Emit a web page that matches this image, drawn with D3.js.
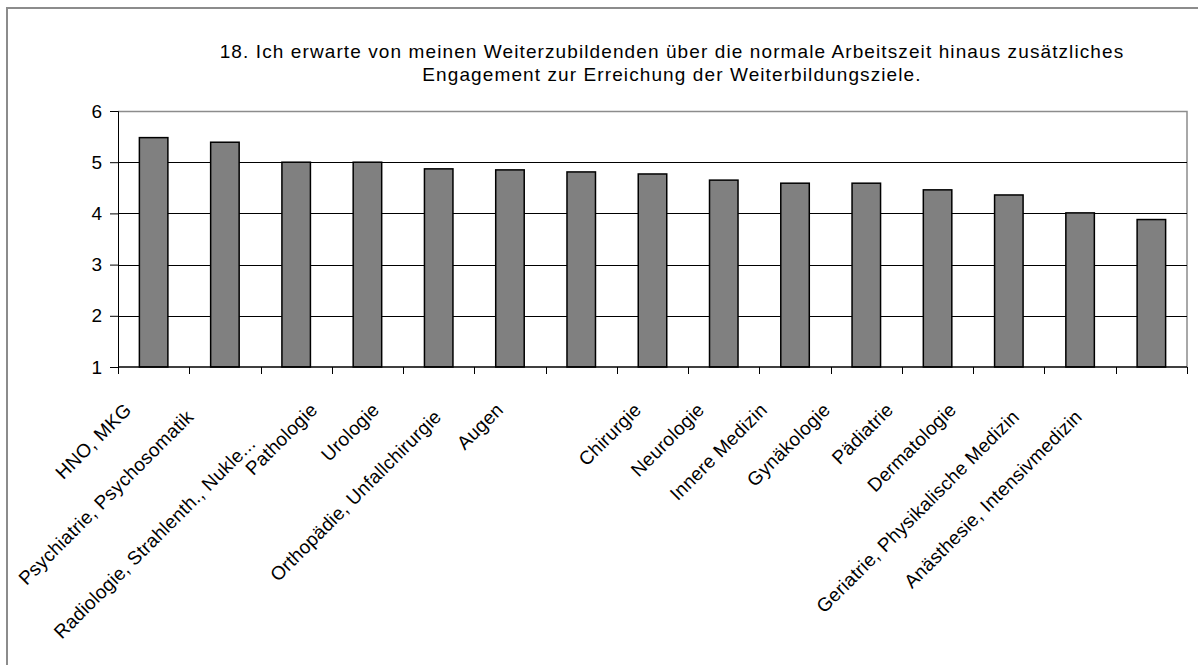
<!DOCTYPE html>
<html lang="de">
<head>
<meta charset="UTF-8">
<title>Weiterbildung Frage 18</title>
<script src="https://d3js.org/d3.v7.min.js"></script>
<style>
    body { margin: 0; background: #fff; }
    text { font-family: "Liberation Sans", Arial, sans-serif; fill: #000; }
</style>
</head>
<body>
<svg width="1198" height="665"></svg>
<script>
    var categories = ["HNO, MKG", "Psychiatrie, Psychosomatik", "Radiologie, Strahlenth., Nukle...",
        "Pathologie", "Urologie", "Orthopädie, Unfallchirurgie", "Augen", "Chirurgie", "Neurologie",
        "Innere Medizin", "Gynäkologie", "Pädiatrie", "Dermatologie",
        "Geriatrie, Physikalische Medizin", "Anästhesie, Intensivmedizin"];
    var values = [5.48, 5.39, 5.0, 5.0, 4.87, 4.85, 4.81, 4.77, 4.65, 4.59, 4.59, 4.46, 4.36, 4.01, 3.88];
    var yTicks = [1, 2, 3, 4, 5, 6];
    var titleLines = ["18. Ich erwarte von meinen Weiterzubildenden über die normale Arbeitszeit hinaus zusätzliches",
        "Engagement zur Erreichung der Weiterbildungsziele."];

    var svg = d3.select("svg");
    var mLeft = 118, mTop = 111, mRight = 1187, mBottom = 367;
    var width = mRight - mLeft, height = mBottom - mTop;

    // outer chart frame
    svg.append("rect")
        .attr("x", 7).attr("y", 8)
        .attr("width", 1200).attr("height", 700)
        .attr("fill", "none").attr("stroke", "#8c8c8c").attr("stroke-width", 2);

    // title
    svg.append("text")
        .attr("x", 672).attr("y", 58)
        .attr("text-anchor", "middle")
        .style("font-size", "19px")
        .style("letter-spacing", "1.1px")
        .selectAll("tspan")
        .data(titleLines)
        .enter().append("tspan")
        .attr("x", 672)
        .attr("dy", function (d, i) { return i ? 23 : 0; })
        .text(function (d) { return d; });

    var x = d3.scaleBand().domain(categories).range([0, width]).paddingInner(0.6).paddingOuter(0.3);
    var y = d3.scaleLinear().domain([1, 6]).range([height, 0]);

    var g = svg.append("g").attr("transform", "translate(" + mLeft + "," + mTop + ")");

    // plot frame (top/right grey)
    g.append("path")
        .attr("d", "M0,0.5H" + width + "V" + height)
        .attr("fill", "none").attr("stroke", "#8c8c8c").attr("stroke-width", 1.5);

    // gridlines
    g.selectAll(".grid")
        .data(yTicks.filter(function (d) { return d > 1 && d < 6; }))
        .enter().append("line")
        .attr("x1", 0).attr("x2", width)
        .attr("y1", function (d) { return Math.round(y(d)) + 0.5; })
        .attr("y2", function (d) { return Math.round(y(d)) + 0.5; })
        .attr("stroke", "#000");

    // y axis
    var yAxis = g.append("g")
        .call(d3.axisLeft(y).tickValues(yTicks).tickSize(8).tickPadding(8).tickFormat(d3.format("d")));
    yAxis.select(".domain").attr("stroke", "#000");
    yAxis.selectAll("text").style("font-size", "19px").attr("font-family", null);

    // bars
    g.selectAll(".bar")
        .data(values)
        .enter().append("rect")
        .attr("class", "bar")
        .attr("x", function (d, i) { return x(categories[i]); })
        .attr("y", function (d) { return y(d); })
        .attr("width", x.bandwidth())
        .attr("height", function (d) { return height - y(d); })
        .attr("fill", "#808080")
        .attr("stroke", "#000")
        .attr("stroke-width", 1.5);

    // x axis: ticks at category boundaries
    var step = x.step();
    var bounds = d3.range(categories.length + 1);
    var xAxis = g.append("g").attr("transform", "translate(0," + height + ")");
    xAxis.append("line").attr("x1", 0).attr("x2", width).attr("stroke", "#000").attr("stroke-width", 1.5);
    xAxis.selectAll(".btick")
        .data(bounds)
        .enter().append("line")
        .attr("x1", function (d) { return Math.round(d * step) + 0.5; })
        .attr("x2", function (d) { return Math.round(d * step) + 0.5; })
        .attr("y1", 0).attr("y2", 7)
        .attr("stroke", "#000");

    // rotated labels; the original squeezes them leftwards in two runs,
    // long labels sit a little lower, the truncated one much lower
    function labelShift(i) {
        return i < 7 ? -21 - 9.3 * i : -10 - 8.3 * (i - 7);
    }
    function labelDrop(d) {
        if (d.slice(-3) === "...") return 78;
        return d.length > 20 ? 51 : 44;
    }
    xAxis.selectAll(".lbl")
        .data(categories)
        .enter().append("text")
        .attr("text-anchor", "end")
        .style("font-size", "19px")
        .style("letter-spacing", "0.25px")
        .attr("transform", function (d, i) {
            return "translate(" + (x(d) + x.bandwidth() / 2 + labelShift(i)) + "," + labelDrop(d) + ") rotate(-45)";
        })
        .text(function (d) { return d; });
</script>
</body>
</html>
